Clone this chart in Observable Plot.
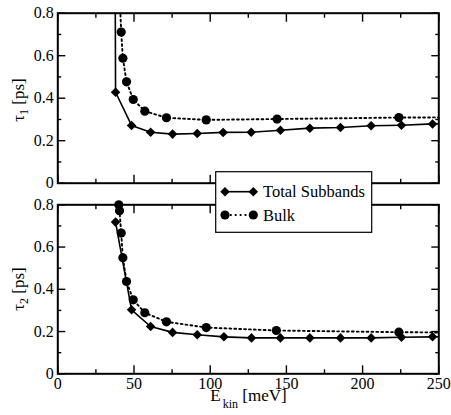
<!DOCTYPE html>
<html>
<head>
<meta charset="utf-8">
<script src="https://cdn.jsdelivr.net/npm/d3@7"></script>
<script src="https://cdn.jsdelivr.net/npm/@observablehq/plot@0.6"></script>
<style>
  body { margin: 0; background: #fff; }
  #wrap { position: relative; width: 451px; height: 415px; }
  #wrap svg { position: absolute; left: 0; }
  #wrap svg, #wrap svg text { font-family: "Liberation Serif", "Times New Roman", "DejaVu Serif", serif !important; }
</style>
</head>
<body>
<div id="wrap"></div>
<script>
// ---- data (E_kin in meV, tau in ps) ----
const tau1SubE   = [37.4, 37.9, 48.4, 60.9, 75.3, 91.5, 108.5, 126.9, 146.1, 165.4, 185.5, 205.6, 225.5, 245.9, 262];
const tau1SubV   = [1.5, 0.428, 0.272, 0.240, 0.231, 0.234, 0.239, 0.240, 0.249, 0.259, 0.262, 0.270, 0.273, 0.279, 0.283];
const tau1BulkE  = [39.9, 41.6, 42.7, 45.1, 49.5, 57.1, 71.3, 97.4, 143.9, 223.8, 265];
const tau1BulkV  = [1.0, 0.711, 0.588, 0.477, 0.394, 0.339, 0.308, 0.298, 0.302, 0.309, 0.31];
const tau2SubE   = [37.9, 48.4, 60.9, 75.3, 91.5, 109.0, 127.1, 146.1, 165.4, 185.5, 205.6, 225.5, 245.9, 262];
const tau2SubV   = [0.718, 0.303, 0.224, 0.196, 0.185, 0.175, 0.170, 0.170, 0.170, 0.170, 0.170, 0.173, 0.175, 0.176];
const tau2BulkE  = [40.0, 40.5, 41.6, 42.7, 45.1, 49.5, 57.1, 71.3, 97.4, 143.4, 223.8, 265];
const tau2BulkV  = [0.800, 0.772, 0.666, 0.549, 0.437, 0.350, 0.289, 0.246, 0.219, 0.205, 0.197, 0.195];

const xMajor = [0, 50, 100, 150, 200, 250];
const xMinor = [25, 75, 125, 175, 225];
const yMajor = [0, 0.2, 0.4, 0.6, 0.8];
const yMinor = [0.1, 0.3, 0.5, 0.7];
const legendNames = ["Total Subbands", "Bulk"];
const xDomain = [0, 250];
const yDomain = [0, 0.8];

const FONT = '"Liberation Serif", "Times New Roman", "DejaVu Serif", serif';
const DOTS = "1.8,3.1";
const zip = (E, V) => E.map((e, i) => ({E: e, tau: V[i]}));
const inView = d => d.tau <= yDomain[1] + 1e-9 && d.E <= xDomain[1];

function panel({height, marginTop, marginBottom, sub, bulk, xLabels}) {
  const marks = [
    Plot.line(sub, {x: "E", y: "tau", stroke: "black", strokeWidth: 1.6, clip: true}),
    Plot.line(bulk, {x: "E", y: "tau", stroke: "black", strokeWidth: 1.9, strokeDasharray: DOTS, clip: true}),
    Plot.dot(sub.filter(inView), {x: "E", y: "tau", symbol: "diamond2", r: 4.3, fill: "black"}),
    Plot.dot(bulk.filter(inView), {x: "E", y: "tau", r: 4.6, fill: "black"})
  ];
  for (const anchor of ["bottom", "top"]) {
    marks.push(Plot.axisX(xMajor, {anchor, tickSize: -8, tickFormat: () => "", label: null, strokeWidth: 1.4}));
    marks.push(Plot.axisX(xMinor, {anchor, tickSize: -4, tickFormat: () => "", label: null, strokeWidth: 1.4}));
  }
  for (const anchor of ["left", "right"]) {
    marks.push(Plot.axisY(yMajor, {anchor, tickSize: -8, tickFormat: () => "", label: null, strokeWidth: 1.4}));
    marks.push(Plot.axisY(yMinor, {anchor, tickSize: -4, tickFormat: () => "", label: null, strokeWidth: 1.4}));
  }
  marks.push(Plot.axisY(yMajor, {anchor: "left", tickSize: 0, tickPadding: 4, label: null, tickFormat: d => String(d)}));
  if (xLabels) marks.push(Plot.axisX(xMajor, {anchor: "bottom", tickSize: 0, tickPadding: 3.5, label: null, tickFormat: d => String(d)}));
  marks.push(Plot.frame({stroke: "black", strokeWidth: 2}));
  return Plot.plot({
    width: 451, height,
    marginLeft: 57.3, marginRight: 12.7, marginTop, marginBottom,
    x: {domain: xDomain},
    y: {domain: yDomain},
    style: {fontFamily: FONT, fontSize: "16px", background: "transparent", overflow: "visible", color: "black"},
    marks
  });
}

const wrap = d3.select("#wrap");

const p1 = panel({height: 195, marginTop: 12.7, marginBottom: 12.3, sub: zip(tau1SubE, tau1SubV), bulk: zip(tau1BulkE, tau1BulkV), xLabels: false});
p1.style.top = "0px";
wrap.node().appendChild(p1);

const p2 = panel({height: 220, marginTop: 9.3, marginBottom: 41.7, sub: zip(tau2SubE, tau2SubV), bulk: zip(tau2BulkE, tau2BulkV), xLabels: true});
p2.style.top = "195px";
wrap.node().appendChild(p2);

function yLabel(svg, sub, cy) {
  const t = d3.select(svg).append("text")
    .attr("transform", `translate(23.5,${cy}) rotate(-90)`)
    .attr("text-anchor", "middle")
    .attr("font-size", 17)
    .attr("fill", "black");
  t.append("tspan").text("τ");
  t.append("tspan").attr("font-size", 12).attr("dy", 4).text(sub);
  t.append("tspan").attr("dy", -4).text(" [ps]");
}
yLabel(p1, "1", 100);
yLabel(p2, "2", 94);

{
  const t = d3.select(p2).append("text")
    .attr("x", 248.5).attr("y", 206)
    .attr("text-anchor", "middle")
    .attr("font-size", 17)
    .attr("fill", "black");
  t.append("tspan").text("E");
  t.append("tspan").attr("font-size", 12).attr("dx", 2).attr("dy", 6.5).text("kin");
  t.append("tspan").attr("dy", -6.5).text(" [meV]");
}

// legend
{
  const lg = wrap.append("svg").attr("width", 451).attr("height", 415).style("top", "0px");
  lg.append("rect").attr("x", 215.7).attr("y", 171.7).attr("width", 156).attr("height", 60.6)
    .attr("fill", "white").attr("stroke", "black").attr("stroke-width", 1.2);
  const rows = [
    {name: legendNames[0], y: 191.7, dash: null, w: 1.6},
    {name: legendNames[1], y: 215, dash: DOTS, w: 1.9}
  ];
  const diamond = d3.symbol(d3.symbolDiamond2, 4.3 * 4.3 * Math.PI)();
  rows.forEach((r, i) => {
    lg.append("line").attr("x1", 225).attr("x2", 253.3).attr("y1", r.y).attr("y2", r.y)
      .attr("stroke", "black").attr("stroke-width", r.w).attr("stroke-dasharray", r.dash);
    for (const x of [225, 253.3]) {
      if (i === 0) lg.append("path").attr("d", diamond).attr("transform", `translate(${x},${r.y})`).attr("fill", "black");
      else lg.append("circle").attr("cx", x).attr("cy", r.y).attr("r", 4.6).attr("fill", "black");
    }
    lg.append("text").attr("x", 263).attr("y", r.y + 5.5).attr("font-size", 16.5).attr("fill", "black")
      .text(r.name);
  });
}
</script>
</body>
</html>
